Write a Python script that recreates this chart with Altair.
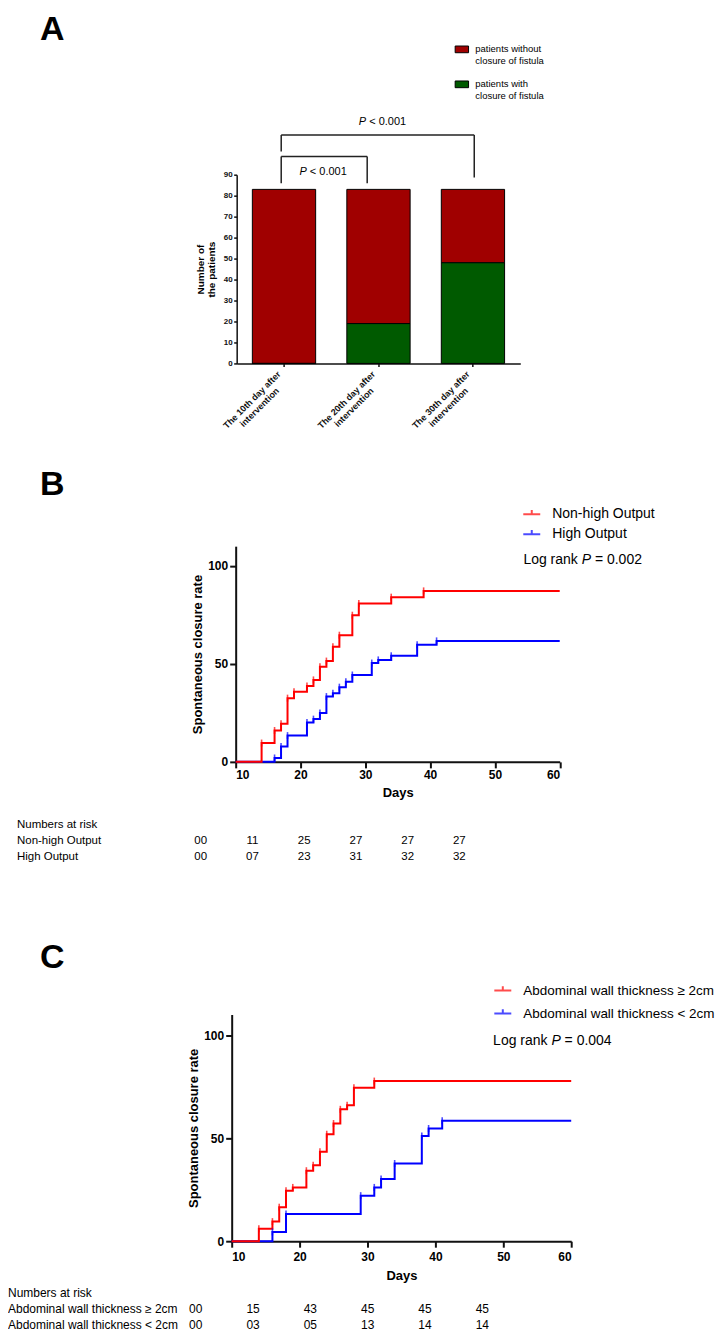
import altair as alt
import pandas as pd

FONT = "Liberation Sans"

# ---------------- Panel A data ----------------
a_categories = ["The 10th day after intervention",
                "The 20th day after intervention",
                "The 30th day after intervention"]
a_without = [83, 64, 35]
a_with = [0, 19, 48]
a_status = ["patients without closure of fistula", "patients with closure of fistula"]
a_colors = ["#A00000", "#005A00"]

# ---------------- Panel B data ----------------
b_groups = ["Non-high Output", "High Output"]
b_colors = ["#FF0000", "#0000FF"]
b_red_days = [10, 14, 16, 17, 18, 19, 21, 22, 23, 24, 25, 26, 28, 29, 34, 39, 60]
b_red_rate = [0, 9.6, 16, 19.4, 32.5, 35.8, 38.7, 41.8, 48.5, 51.4, 58.7, 64.6, 74.8, 80.8, 84, 87.2, 87.2]
b_blue_days = [10, 16, 17, 18, 21, 22, 23, 24, 25, 26, 27, 28, 31, 32, 34, 38, 41, 60]
b_blue_rate = [0, 2, 7.9, 13.4, 20.1, 21.8, 24.9, 33.3, 35, 38.1, 40.9, 44.3, 50.4, 52, 54.1, 59.7, 61.7, 61.7]
b_risk_labels = ["Non-high Output", "High Output"]
b_risk_nonhigh = ["00", "11", "25", "27", "27", "27"]
b_risk_high = ["00", "07", "23", "31", "32", "32"]
b_logrank = ["Log rank", "P", "= 0.002"]

# ---------------- Panel C data ----------------
c_groups = ["Abdominal wall thickness \u2265 2cm", "Abdominal wall thickness < 2cm"]
c_colors = ["#FF0000", "#0000FF"]
c_red_days = [10, 14, 16, 17, 18, 19, 21, 22, 23, 24, 25, 26, 27, 28, 31, 60]
c_red_rate = [0, 6, 9.5, 16.5, 24.5, 26.1, 34.2, 36.9, 43.4, 51.9, 57.1, 64, 66, 74.5, 77.7, 77.7]
c_blue_days = [10, 16, 18, 29, 31, 32, 34, 38, 39, 41, 60]
c_blue_rate = [0, 4.5, 13.2, 22.1, 26.1, 30.2, 37.7, 51.1, 54.7, 58.4, 58.4]
c_risk_labels = ["Abdominal wall thickness \u2265 2cm", "Abdominal wall thickness < 2cm"]
c_risk_thick = ["00", "15", "43", "45", "45", "45"]
c_risk_thin = ["00", "03", "05", "13", "14", "14"]
c_logrank = ["Log rank", "P", "= 0.004"]

AX = "#111111"

# ====================== Panel A ======================
dfA = pd.DataFrame({
    "day": a_categories * 2,
    "status": [a_status[0]] * 3 + [a_status[1]] * 3,
    "n": a_without + a_with,
})

xA = alt.X("day:N", title=None,
           scale=alt.Scale(domain=a_categories, range=[5, 289], paddingInner=0.33, paddingOuter=0.166),
           axis=alt.Axis(labelAngle=-45, labelAlign="center", labelBaseline="middle",
                         labelOffset=-32, labelPadding=33, labelFontSize=9, labelFontWeight="bold",
                         labelLineHeight=10.5,
                         labelExpr="[slice(datum.label, 0, 18), slice(datum.label, 19)]",
                         labelLimit=0, labelOverlap=False, tickSize=3, tickColor=AX, tickWidth=1.5,
                         domainColor=AX, domainWidth=1.5, labelColor="#111111"))
yA = alt.Y("n:Q", title=["Number of", "the patients"],
           scale=alt.Scale(domain=[0, 90], nice=False),
           axis=alt.Axis(values=list(range(0, 91, 10)), offset=-5, labelFontSize=8, labelFontWeight="bold",
                         tickSize=3, tickColor=AX, tickWidth=1.5, labelPadding=1.5, titleFontSize=10,
                         titleFontWeight="bold", titleLineHeight=10.5, titlePadding=7,
                         domainColor=AX, domainWidth=1.5, grid=False, labelColor="#111111"))

bars = alt.Chart(dfA).transform_calculate(
    ord="datum.status == '" + a_status[1] + "' ? 0 : 1"
).mark_bar(stroke="black", strokeWidth=1).encode(
    x=xA, y=yA,
    color=alt.Color("status:N", scale=alt.Scale(domain=a_status, range=a_colors),
                    legend=alt.Legend(orient="none", legendX=223, legendY=-133, title=None,
                                      symbolType="M-1,-0.5H1V0.5H-1Z", symbolSize=180,
                                      symbolStrokeColor="black", symbolStrokeWidth=1,
                                      labelFontSize=9.5,
                                      labelExpr="split(replace(datum.label, ' closure', '|closure'), '|')",
                                      rowPadding=11, labelOffset=6, padding=0, labelLimit=0)),
    order=alt.Order("ord:Q"),
)

def rule_layer(rows, **mk):
    df = pd.DataFrame(rows)
    enc = {"x": xA, "y": yA}
    if "day2" in df.columns:
        enc["x2"] = alt.X2("day2:N")
    if "n2" in df.columns:
        enc["y2"] = alt.Y2("n2:Q")
    return alt.Chart(df).mark_rule(color="#222222", strokeWidth=1.5, **mk).encode(**enc)

c1, c2, c3 = a_categories
brackets = [
    rule_layer({"day": [c1, c1], "n": [98.7, 108.9], "n2": [85.9, 101.1]}, xOffset=-2.8),
    rule_layer({"day": [c1], "day2": [c2], "n": [98.7]}, xOffset=-2.8, x2Offset=-11.3),
    rule_layer({"day": [c2], "n": [98.7], "n2": [85.9]}, xOffset=-11.3),
    rule_layer({"day": [c1], "day2": [c3], "n": [108.9]}, xOffset=-2.8, x2Offset=1.3),
    rule_layer({"day": [c3], "n": [108.9], "n2": [88.7]}, xOffset=1.3),
]

def ptext(cat, yval, dx):
    df = pd.DataFrame({"day": [cat], "n": [yval]})
    p = alt.Chart(df).mark_text(text="P", fontStyle="italic", align="left", baseline="middle",
                                fontSize=11, dx=dx).encode(x=xA, y=yA)
    rest = alt.Chart(df).mark_text(text="< 0.001", align="left", baseline="middle",
                                   fontSize=11, dx=dx + 10.4).encode(x=xA, y=yA)
    return [p, rest]

letter_df = pd.DataFrame({"k": [0]})
letterA = alt.Chart(letter_df).mark_text(
    text="A", fontSize=34, fontWeight="bold", align="left", baseline="top"
).encode(x=alt.value(-192), y=alt.value(-162))
# invisible anchor fixing the top edge of the figure
top_anchor = alt.Chart(letter_df).mark_text(
    text="A", fontSize=4, opacity=0, align="left", baseline="top"
).encode(x=alt.value(-192), y=alt.value(-166))

chartA = alt.layer(bars, *brackets, *ptext(c1, 91.1, 15.5), *ptext(c2, 115.2, -19.7),
                   letterA, top_anchor).properties(width=289, height=189)

spacer = alt.Chart(pd.DataFrame({"k": [0]})).mark_point(opacity=0).encode(
    x=alt.value(0), y=alt.value(0)).properties(width=289, height=183)


# ====================== KM panels ======================
def km_panel(groups, colors, red_days, red_rate, blue_days, blue_rate, logrank, lr_pos,
             width, height, xrange, yoffset, legend_xy, row_pad, legend_font, letter, letter_y,
             xlab_pad, xtitle_pad):
    xs = alt.Scale(domain=[10, 60], nice=False, zero=False)
    if xrange is not None:
        xs = alt.Scale(domain=[10, 60], range=xrange, nice=False, zero=False)
    x = alt.X("day:Q", title="Days", scale=xs,
              axis=alt.Axis(values=[10, 20, 30, 40, 50, 60], labelFontSize=12, labelFontWeight="bold",
                            tickSize=6, tickWidth=2, tickColor=AX, domainWidth=2, domainColor=AX,
                            labelPadding=xlab_pad, titleFontSize=13, titleFontWeight="bold",
                            titlePadding=xtitle_pad, grid=False, labelColor="black"))
    y = alt.Y("rate:Q", title="Spontaneous closure rate", scale=alt.Scale(domain=[0, 110], nice=False),
              axis=alt.Axis(values=[0, 50, 100], offset=yoffset, labelFontSize=12, labelFontWeight="bold",
                            tickSize=6, tickWidth=2, tickColor=AX, domainWidth=2, domainColor=AX,
                            labelPadding=2, titleFontSize=13, titleFontWeight="bold", titlePadding=3,
                            grid=False, labelColor="black"))
    color = alt.Color("group:N", scale=alt.Scale(domain=groups, range=colors),
                      legend=alt.Legend(orient="none", legendX=legend_xy[0], legendY=legend_xy[1],
                                        title=None, symbolType="M-1,0H1M0,0V-0.5", symbolSize=289,
                                        symbolStrokeWidth=2, labelFontSize=legend_font, labelOffset=11,
                                        rowPadding=row_pad, padding=0, labelLimit=0))
    red = pd.DataFrame({"day": red_days, "rate": red_rate, "group": groups[0]})
    blue = pd.DataFrame({"day": blue_days, "rate": blue_rate, "group": groups[1]})
    layers = []
    for df in (blue, red):
        layers.append(alt.Chart(df).mark_line(interpolate="step-after", strokeWidth=2).encode(
            x=x, y=y, color=color))
    for df in (blue, red):
        layers.append(alt.Chart(df.iloc[1:-1]).mark_tick(orient="vertical", size=7, thickness=1.6).encode(
            x=x, y=y, color=color))
    lr = pd.DataFrame({"day": [lr_pos[0]], "rate": [lr_pos[1]]})
    styles = [("normal", 0), ("italic", 58.4), ("normal", 71.6)]
    for txt, (st, dx) in zip(logrank, styles):
        layers.append(alt.Chart(lr).mark_text(text=txt, fontStyle=st, align="left", baseline="middle",
                                              fontSize=14, dx=dx).encode(x=x, y=y))
    layers.append(alt.Chart(pd.DataFrame({"k": [0]})).mark_text(
        text=letter, fontSize=34, fontWeight="bold", align="left", baseline="middle"
    ).encode(x=alt.value(-192), y=alt.value(letter_y)))
    return alt.layer(*layers).properties(width=width, height=height)


chartB = km_panel(b_groups, b_colors, b_red_days, b_red_rate, b_blue_days, b_blue_rate, b_logrank,
                  (54.4, 102.9), 329, 216, [4, 328.5], -4, (291, -41.5), 3, 14, "B", -61, 2, 6)
chartC = km_panel(c_groups, c_colors, c_red_days, c_red_rate, c_blue_days, c_blue_rate, c_logrank,
                  (48.5, 97), 340, 227, None, 0, (262, -33.5), 7, 13.5, "C", -57, 4, 7)


# ====================== Numbers at risk ======================
def risk_chart(labels, values, label_x, col_range, row_range, fontsize, height):
    rows = []
    for r, vals in enumerate(values):
        for c, v in enumerate(vals):
            rows.append({"col": c, "row": r, "txt": v})
    df_num = pd.DataFrame(rows)
    df_lab = pd.DataFrame({"row": list(range(-1, len(labels))), "txt": ["Numbers at risk"] + labels})
    y = alt.Y("row:Q", scale=alt.Scale(domain=[0, 1], range=row_range, nice=False, zero=False), axis=None)
    nums = alt.Chart(df_num).mark_text(fontSize=fontsize, baseline="middle", align="center").encode(
        x=alt.X("col:Q", scale=alt.Scale(domain=[0, 5], range=col_range, nice=False, zero=False), axis=None),
        y=y, text="txt:N")
    labs = alt.Chart(df_lab).mark_text(fontSize=fontsize, baseline="middle", align="left").encode(
        x=alt.value(label_x), y=y, text="txt:N")
    return alt.layer(nums, labs).properties(width=340, height=height)


riskB = risk_chart(b_risk_labels, [b_risk_nonhigh, b_risk_high], -215, [-31, 228], [79, 95], 11.5, 253)
riskC = risk_chart(c_risk_labels, [c_risk_thick, c_risk_thin], -224, [-36, 251], [68, 84], 12, 70)

chart = alt.vconcat(chartA, spacer, chartB, riskB, chartC, riskC, spacing=0, bounds="flush").resolve_scale(
    color="independent", x="independent", y="independent"
).resolve_legend(color="independent").properties(padding=0).configure(font=FONT).configure_view(strokeWidth=0)

chart.save("out.html", embed_options={"renderer": "svg", "actions": False})
